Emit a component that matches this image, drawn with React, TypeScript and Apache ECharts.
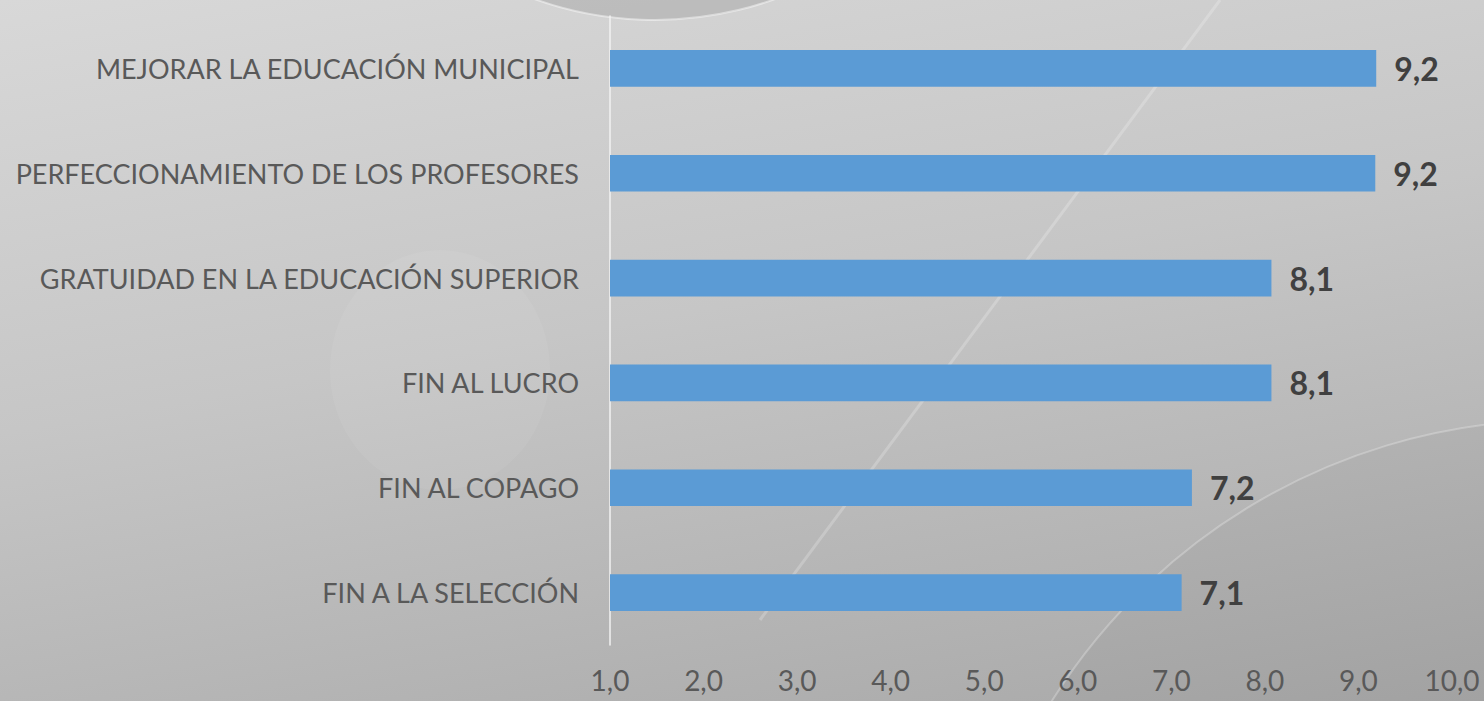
import React, { useEffect, useRef } from "react";
import * as echarts from "echarts";

const categories = [
  "FIN A LA SELECCIÓN",
  "FIN AL COPAGO",
  "FIN AL LUCRO",
  "GRATUIDAD EN LA EDUCACIÓN SUPERIOR",
  "PERFECCIONAMIENTO DE LOS PROFESORES",
  "MEJORAR LA EDUCACIÓN MUNICIPAL",
];
const values = [7.11, 7.22, 8.07, 8.07, 9.18, 9.19];
const axisMin = 1;
const axisMax = 10;
const axisStep = 1;

const FONT = "Lato, 'Open Sans', sans-serif";

export default function App() {
  const ref = useRef<HTMLDivElement>(null);
  useEffect(() => {
    if (!ref.current) return;
    const chart = echarts.init(ref.current, null, { renderer: "svg" });
    chart.setOption({
      animation: false,
      backgroundColor: "transparent",
      graphic: [
        {
          type: "circle",
          silent: true,
          z: -10,
          shape: { cx: 655, cy: -335, r: 355 },
          style: { fill: "rgba(110,110,110,0.22)", stroke: "rgba(255,255,255,0.45)", lineWidth: 2 },
        },
        {
          type: "circle",
          silent: true,
          z: -10,
          shape: { cx: 1560, cy: 1020, r: 600 },
          style: { fill: "rgba(0,0,0,0.03)", stroke: "rgba(255,255,255,0.25)", lineWidth: 2 },
        },
        {
          type: "line",
          silent: true,
          z: -10,
          shape: { x1: 1220, y1: 0, x2: 760, y2: 620 },
          style: { stroke: "rgba(255,255,255,0.22)", lineWidth: 3 },
        },
        {
          type: "ellipse",
          silent: true,
          z: -10,
          shape: { cx: 440, cy: 370, rx: 110, ry: 120 },
          style: { fill: "rgba(255,255,255,0.06)" },
        },
      ],
      grid: { left: 610, right: 32, top: 16, bottom: 56, containLabel: false },
      xAxis: {
        type: "value",
        min: axisMin,
        max: axisMax,
        interval: axisStep,
        axisLine: { show: false },
        axisTick: { show: false },
        splitLine: { show: false },
        axisLabel: {
          color: "#595959",
          fontFamily: FONT,
          fontSize: 28,
          margin: 21,
          formatter: (v: number) => v.toFixed(1).replace(".", ","),
        },
      },
      yAxis: {
        type: "category",
        data: categories,
        axisLine: { show: true, lineStyle: { color: "#f2f2f2", width: 1.5 } },
        axisTick: { show: false },
        axisLabel: {
          color: "#595959",
          fontFamily: FONT,
          fontSize: 27,
          margin: 31,
        },
      },
      series: [
        {
          type: "bar",
          data: values,
          barWidth: "35%",
          itemStyle: { color: "#5B9BD5" },
          label: {
            show: true,
            position: "right",
            distance: 18,
            color: "#404040",
            fontFamily: FONT,
            fontWeight: "bold",
            fontSize: 32,
            formatter: (p: any) => Number(p.value).toFixed(1).replace(".", ","),
          },
        },
      ],
    });
    return () => chart.dispose();
  }, []);
  return (
    <div
      style={{
        position: "fixed",
        left: 0,
        top: 0,
        width: 1484,
        height: 701,
        background: "linear-gradient(170deg, #d8d8d8 0%, #c6c6c6 45%, #a8a8a8 100%)",
      }}
    >
      <div ref={ref} style={{ width: 1484, height: 701 }} />
    </div>
  );
}
